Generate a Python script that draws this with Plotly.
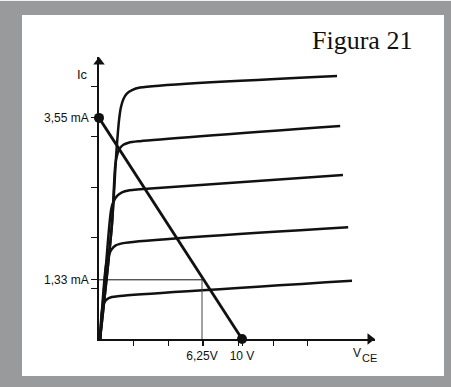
import plotly.graph_objects as go

# ---- data (schematic units: one grid division per axis tick) ----
curve1_x = [0.03, 0.37, 0.50, 0.58, 0.63, 0.70, 0.80, 0.95, 1.18, 6.84]
curve1_y = [0.00, 2.25, 3.70, 4.35, 4.58, 4.74, 4.85, 4.92, 4.97, 5.20]
curve2_x = [0.03, 0.37, 0.47, 0.53, 0.60, 0.70, 0.85, 1.18, 6.93]
curve2_y = [0.00, 2.25, 3.45, 3.66, 3.77, 3.84, 3.88, 3.91, 4.21]
curve3_x = [0.03, 0.26, 0.35, 0.42, 0.52, 0.66, 0.88, 1.18, 7.01]
curve3_y = [0.00, 1.96, 2.56, 2.72, 2.83, 2.90, 2.94, 2.96, 3.24]
curve4_x = [0.03, 0.20, 0.28, 0.36, 0.48, 0.75, 7.16]
curve4_y = [0.00, 1.45, 1.66, 1.77, 1.85, 1.90, 2.21]
curve5_x = [0.03, 0.09, 0.15, 0.24, 0.37, 0.60, 7.27]
curve5_y = [0.00, 0.58, 0.72, 0.79, 0.83, 0.85, 1.15]

load_x = [0.0, 4.11]     # 0 V  -> 10 V
load_y = [4.37, 0.0]     # 3,55 mA -> 0
q_x = 2.96               # 6,25 V
q_y = 1.17               # 1,33 mA

x_ticks = [1, 2, 3, 4, 5, 6]
y_ticks = [1, 2, 3, 4, 5]
x_label_vals = [q_x, load_x[1]]
x_label_text = ["6,25V", "10 V"]
y_label_vals = [q_y, load_y[0]]
y_label_text = ["1,33 mA", "3,55 mA"]

title_text = "Figura 21"
ylab_text = "Ic"
xlab_main = "V"
xlab_sub = "CE"

INK = "#111111"
GRAY = "#999a9c"
W, H = 451, 387
L, R, T, B = 99, 76, 57, 48
PW, PH = W - L - R, H - T - B
XDIV, YDIV = 34.8, 50.6
xmax = PW / XDIV
ymax = PH / YDIV

def px_x(p):
    return (p - L) / PW

def px_y(p):
    return (H - B - p) / PH

fig = go.Figure()

for cx, cy in [(curve1_x, curve1_y), (curve2_x, curve2_y), (curve3_x, curve3_y),
               (curve4_x, curve4_y), (curve5_x, curve5_y)]:
    fig.add_trace(go.Scatter(x=cx, y=cy, mode="lines",
                             line=dict(color=INK, width=2.5, shape="spline", smoothing=0.8),
                             hoverinfo="skip", showlegend=False))

# Q point guide lines
fig.add_trace(go.Scatter(x=[0, q_x], y=[q_y, q_y], mode="lines",
                         line=dict(color=INK, width=1), showlegend=False))
fig.add_trace(go.Scatter(x=[q_x, q_x], y=[q_y, 0], mode="lines",
                         line=dict(color="#444444", width=1), showlegend=False))

# load line with end dots
fig.add_trace(go.Scatter(x=load_x, y=load_y, mode="lines+markers",
                         line=dict(color=INK, width=2.8),
                         marker=dict(color=INK, size=10),
                         cliponaxis=False, showlegend=False))

# axis arrowheads
fig.add_trace(go.Scatter(x=[0], y=[ymax - 5 / YDIV], mode="markers",
                         marker=dict(symbol="triangle-up", size=10, color=INK),
                         cliponaxis=False, showlegend=False))
fig.add_trace(go.Scatter(x=[xmax - 5 / XDIV], y=[0], mode="markers",
                         marker=dict(symbol="triangle-right", size=10, color=INK),
                         cliponaxis=False, showlegend=False))

tick_font = dict(family="Liberation Sans, Arial, sans-serif", size=12, color=INK)

fig.update_xaxes(range=[0, xmax], showgrid=False, zeroline=False,
                 showline=True, linecolor=INK, linewidth=1.6,
                 ticks="outside", ticklen=5, tickwidth=1, tickcolor=INK,
                 tickvals=x_ticks + x_label_vals,
                 ticktext=[""] * len(x_ticks) + x_label_text,
                 tickfont=tick_font)
fig.update_yaxes(range=[0, ymax], showgrid=False, zeroline=False,
                 showline=True, linecolor=INK, linewidth=1.6,
                 ticks="outside", ticklen=6, tickwidth=1, tickcolor=INK,
                 tickvals=y_ticks + y_label_vals,
                 ticktext=[""] * len(y_ticks) + y_label_text,
                 tickfont=tick_font)

annotations = [
    dict(x=px_x(82), y=px_y(74), xref="paper", yref="paper", text=ylab_text,
         xanchor="center", yanchor="middle", showarrow=False,
         font=dict(family="Liberation Sans, Arial, sans-serif", size=13, color=INK)),
    dict(x=px_x(357), y=px_y(353), xref="paper", yref="paper", text=xlab_main,
         xanchor="center", yanchor="middle", showarrow=False,
         font=dict(family="Liberation Sans, Arial, sans-serif", size=12, color=INK)),
    dict(x=px_x(369.5), y=px_y(358), xref="paper", yref="paper", text=xlab_sub,
         xanchor="center", yanchor="middle", showarrow=False,
         font=dict(family="Liberation Sans, Arial, sans-serif", size=11, color=INK)),
    dict(x=px_x(362), y=px_y(41), xref="paper", yref="paper", text=title_text,
         xanchor="center", yanchor="middle", showarrow=False,
         font=dict(family="Liberation Serif, Times New Roman, serif",
                   size=26, color=INK)),
]

shapes = [
    dict(type="rect", xref="paper", yref="paper", layer="below",
         x0=px_x(22), x1=px_x(444), y0=px_y(376), y1=px_y(15),
         fillcolor="white", line=dict(width=0)),
    dict(type="rect", xref="paper", yref="paper", layer="below",
         x0=px_x(0), x1=px_x(W), y0=px_y(1), y1=px_y(0),
         fillcolor="#f2f2f2", line=dict(width=0)),
]

fig.update_layout(width=W, height=H, margin=dict(l=L, r=R, t=T, b=B, pad=0),
                  paper_bgcolor=GRAY, plot_bgcolor="white",
                  annotations=annotations, shapes=shapes, showlegend=False)

fig.write_html("out.html", config={"displayModeBar": False})
